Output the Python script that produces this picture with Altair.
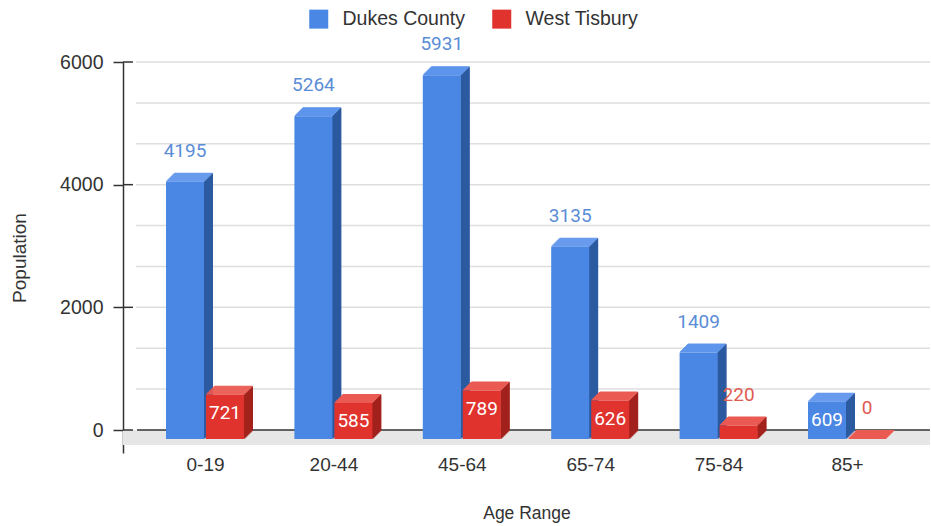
import json
import altair as alt
import pandas as pd

# ---------------- data ----------------
categories = ["0-19", "20-44", "45-64", "65-74", "75-84", "85+"]
dukes_county = [4195, 5264, 5931, 3135, 1409, 609]
west_tisbury = [721, 585, 789, 626, 220, 0]
series_names = ["Dukes County", "West Tisbury"]
y_tick_values = [0, 2000, 4000, 6000]
grid_values = [666.67, 1333.33, 2000, 2666.67, 3333.33, 4000, 4666.67, 5333.33, 6000]

# ---------------- style ----------------
FONT = "Liberation Sans"
LABEL_FONT = "Roboto"
TEXT = "#333333"
BLUE = {"front": "#4a86e3", "side": "#2c5aa0", "top": "#5e95ec", "label": "#5b8dd6"}
RED = {"front": "#e0332e", "side": "#a3221d", "top": "#ea5a52", "label": "#e05a50"}

PLOT_W, PLOT_H = 807, 391
PAD_L, PAD_T = 123, 62
CAT_PX = 128.4                 # pixels per category band
X_LO = -17.8 / CAT_PX          # left edge of plot in category units
X_HI = X_LO + PLOT_W / CAT_PX
KY = 368 / 6000                # pixels per population unit
Y_HI = 6000
Y_LO = Y_HI - PLOT_H / KY
BAR_W, GAP, DEPTH, FLOOR = 38, 2, 9, 15


def ux(p):
    return p / CAT_PX


def uy(p):
    return p / KY


D = uy(DEPTH)

front_rows, face_rows, label_rows = [], [], []
for s_idx, (name, vals, pal) in enumerate(
    [(series_names[0], dukes_county, BLUE), (series_names[1], west_tisbury, RED)]
):
    for i, (cat, v) in enumerate(zip(categories, vals)):
        c = i + 0.5
        x0 = c - ux(GAP / 2 + BAR_W) if s_idx == 0 else c + ux(GAP / 2)
        x1 = x0 + ux(BAR_W)
        front_rows.append(dict(x=x0, x2=x1, y=-D, y2=v - D, series=name))
        # 3D side face, built from thin 1px strips shifted up-right
        for k in range(DEPTH):
            face_rows.append(dict(
                layer=0, x=x1 + ux(k - 0.5), x2=x1 + ux(min(k + 1.5, DEPTH)),
                y=-D + uy(k + 0.5), y2=v - D + uy(k + 0.5), col=pal["side"]))
        # 3D top face
        for k in range(DEPTH):
            face_rows.append(dict(
                layer=1, x=x0 + ux(k + 0.5), x2=x1 + ux(k + 0.5),
                y=v - D + uy(k), y2=v - D + uy(min(k + 1.5, DEPTH)), col=pal["top"]))
        inside = 400 < v < 1000
        label_rows.append(dict(x=(x0 + x1) / 2, y=v - D, label=str(v),
                               inside=inside, lcol=pal["label"]))

front_df = pd.DataFrame(front_rows)
face_df = pd.DataFrame(face_rows)
side_df = face_df[face_df.layer == 0]
top_df = face_df[face_df.layer == 1]
label_df = pd.DataFrame(label_rows)

floor_df = pd.DataFrame([dict(x=X_LO, x2=X_HI, y=-uy(FLOOR), y2=0)])
zero_df = pd.DataFrame([dict(x=X_LO + ux(14), x2=X_HI, y=0)])
grid_df = pd.DataFrame([dict(x=X_LO + ux(13), x2=X_HI, y=g) for g in grid_values])
tick_df = pd.DataFrame([dict(x=X_LO, x2=X_LO + ux(10), y=t) for t in y_tick_values])

label_expr = json.dumps(categories) + "[floor(datum.value)]"

X = alt.X(
    "x:Q",
    scale=alt.Scale(domain=[X_LO, X_HI], nice=False, zero=False),
    axis=alt.Axis(
        values=[i + 0.5 for i in range(len(categories))],
        labelExpr=label_expr,
        title="Age Range",
        domain=False, ticks=False, tickSize=0, grid=False,
        labelPadding=2, labelFont=FONT, labelFontSize=19, labelColor=TEXT,
        labelOverlap=False, labelFlush=False,
        titleFont=FONT, titleFontSize=17.5, titleFontWeight="normal", titleColor=TEXT,
        titleY=51,
    ),
)
Y = alt.Y(
    "y:Q",
    scale=alt.Scale(domain=[Y_LO, Y_HI], nice=False, zero=False),
    stack=None,
    axis=alt.Axis(
        values=y_tick_values,
        format="d",
        title="Population",
        grid=False,
        tickSize=10, tickColor=TEXT, tickWidth=1.5,
        domainColor=TEXT, domainWidth=1.5,
        labelPadding=10, labelFont=FONT, labelFontSize=19.5, labelColor=TEXT,
        titleFont=FONT, titleFontSize=19, titleFontWeight="normal", titleColor=TEXT,
        titleAngle=270, titleBaseline="middle", titleX=-103.5,
    ),
)

floor = alt.Chart(floor_df).mark_rect(color="#e6e6e6").encode(x=X, x2="x2", y=Y, y2="y2")
grid = alt.Chart(grid_df).mark_rule(color="#dedede", strokeWidth=1.5).encode(x=X, x2="x2", y=Y)
ticks = alt.Chart(tick_df).mark_rule(color=TEXT, strokeWidth=1.5).encode(x=X, x2="x2", y=Y)
zero = alt.Chart(zero_df).mark_rule(color=TEXT, strokeWidth=1.5).encode(x=X, x2="x2", y=Y)

side = alt.Chart(side_df).mark_rect().encode(
    x=X, x2="x2", y=Y, y2="y2", fill=alt.Fill("col:N", scale=None)
)
top = alt.Chart(top_df).mark_rect().encode(
    x=X, x2="x2", y=Y, y2="y2", fill=alt.Fill("col:N", scale=None)
)
front = alt.Chart(front_df).mark_rect().encode(
    x=X, x2="x2", y=Y, y2="y2",
    color=alt.Color(
        "series:N",
        scale=alt.Scale(domain=series_names, range=[BLUE["front"], RED["front"]]),
        legend=alt.Legend(
            orient="none", legendX=186, legendY=-53, direction="horizontal",
            title=None, symbolType="square", symbolSize=361, symbolStrokeWidth=0,
            symbolOpacity=1, labelFont=FONT, labelFontSize=19.5, labelColor=TEXT,
            labelOffset=14, columnPadding=27,
        ),
    ),
)

labels_in = alt.Chart(label_df).transform_filter("datum.inside").mark_text(
    font=LABEL_FONT, fontSize=19, baseline="middle", align="center", dy=18, color="white"
).encode(x=X, y=Y, text="label:N")
labels_out = alt.Chart(label_df).transform_filter("!datum.inside").mark_text(
    font=LABEL_FONT, fontSize=19, baseline="middle", align="center", dy=-31
).encode(x=X, y=Y, text="label:N", fill=alt.Fill("lcol:N", scale=None))

chart = alt.layer(
    floor, grid, ticks, zero, side, top, front, labels_in, labels_out
).properties(
    width=PLOT_W, height=PLOT_H,
    autosize=alt.AutoSizeParams(type="none"),
    padding={"left": PAD_L, "top": PAD_T, "right": 931 - PAD_L - PLOT_W,
             "bottom": 526 - PAD_T - PLOT_H},
    background="white",
).configure_view(stroke=None)

chart.save("out.html", embed_options={"renderer": "svg", "actions": False})
